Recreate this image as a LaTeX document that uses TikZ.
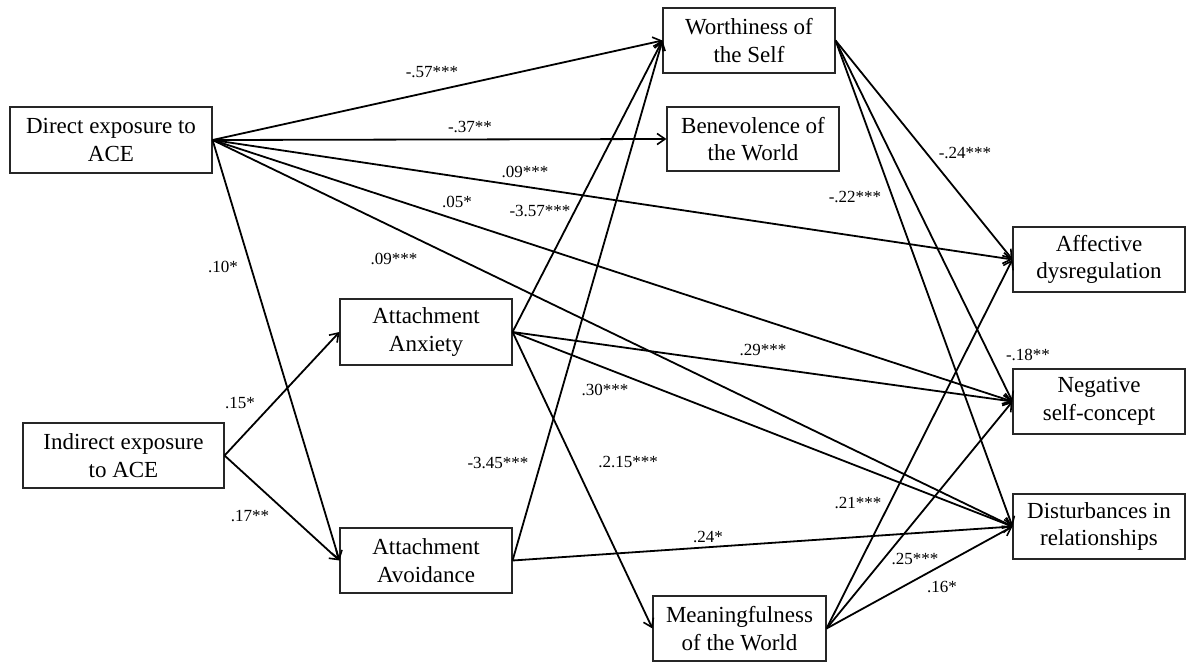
\documentclass[tikz,border=0pt]{standalone}
\usepackage{fontspec}
\setmainfont{Liberation Serif}
\usetikzlibrary{arrows.meta}
\begin{document}
\begin{tikzpicture}[x=1pt,y=-1pt,
  var/.style={draw=black!85, line width=1.1pt, fill=white, inner sep=0pt, align=center,
    minimum width=172pt, minimum height=65pt, font=\fontsize{23}{27.5}\selectfont},
  path/.style={line width=1.8pt, -{Straight Barb[length=8pt,width=11pt,line width=1.6pt]}},
  coef/.style={font=\fontsize{17}{19}\selectfont, inner sep=1pt}]
\useasboundingbox (0,0) rectangle (1186,662);
% nodes
\node[var, minimum width=202pt, minimum height=66pt] (direct) at (111,140) {Direct exposure to\\ACE};
\node[var, minimum width=201pt] (indirect) at (123.5,455.5) {Indirect exposure\\to ACE};
\node[var, minimum height=66pt] (anx) at (426,332) {Attachment\\Anxiety};
\node[var] (avo) at (426,560.5) {Attachment\\Avoidance};
\node[var] (worth) at (749,40.5) {Worthiness of\\the Self};
\node[var, minimum height=64pt] (benev) at (753,139) {Benevolence of\\the World};
\node[var, minimum width=173pt] (mean) at (739.5,628.5) {Meaningfulness\\of the World};
\node[var] (affect) at (1099,259.5) {Affective\\dysregulation};
\node[var] (neg) at (1099,401.5) {Negative\\self-concept};
\node[var] (dist) at (1099,526.5) {Disturbances in\\relationships};
% paths from direct exposure
\draw[path] (direct.east) -- (worth.west);
\draw[path] (direct.east) -- (benev.west);
\draw[path] (direct.east) -- (affect.west);
\draw[path] (direct.east) -- (neg.west);
\draw[path] (direct.east) -- (dist.west);
\draw[path] (direct.east) -- (avo.west);
% indirect
\draw[path] (indirect.east) -- (anx.west);
\draw[path] (indirect.east) -- (avo.west);
% anxiety
\draw[path] (anx.east) -- (worth.west);
\draw[path] (anx.east) -- (neg.west);
\draw[path] (anx.east) -- (dist.west);
\draw[path] (anx.east) -- (mean.west);
% avoidance
\draw[path] (avo.east) -- (worth.west);
\draw[path] (avo.east) -- (dist.west);
% worthiness
\draw[path] (worth.east) -- (affect.west);
\draw[path] (worth.east) -- (neg.west);
\draw[path] (worth.east) -- (dist.west);
% meaningfulness
\draw[path] (mean.east) -- (affect.west);
\draw[path] (mean.east) -- (neg.west);
\draw[path] (mean.east) -- (dist.west);
% coefficients
\node[coef] (l1) at (432,72) {-.57***};
\node[coef] (l2) at (470,127) {-.37**};
\node[coef] (l3) at (525,172) {.09***};
\node[coef] (l4) at (457,202) {.05*};
\node[coef] (l5) at (540,211) {-3.57***};
\node[coef] (l6) at (965,153) {-.24***};
\node[coef] (l7) at (855,197) {-.22***};
\node[coef] (l8) at (223,267) {.10*};
\node[coef] (l9) at (394,259) {.09***};
\node[coef] (l10) at (240,403) {.15*};
\node[coef] (l11) at (250,516) {.17**};
\node[coef] (l12) at (498,463) {-3.45***};
\node[coef] (l13) at (628,462) {.2.15***};
\node[coef] (l14) at (605,390) {.30***};
\node[coef] (l15) at (763,350) {.29***};
\node[coef] (l16) at (1028,355) {-.18**};
\node[coef] (l17) at (858,503) {.21***};
\node[coef] (l18) at (915,559) {.25***};
\node[coef] (l19) at (942,587) {.16*};
\node[coef] (l20) at (708,537) {.24*};
\end{tikzpicture}
\end{document}
